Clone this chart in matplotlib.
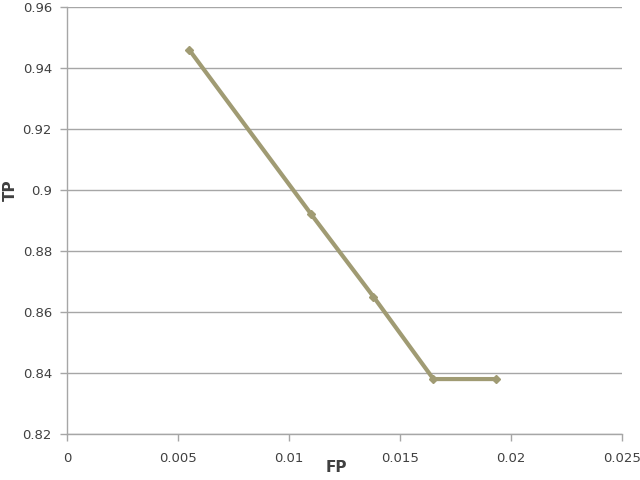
import numpy as np
import matplotlib.pyplot as plt

fp = [0.0055, 0.0110, 0.0138, 0.0165, 0.0193]
tp = [0.946, 0.892, 0.865, 0.838, 0.838]

xticks = [0, 0.005, 0.01, 0.015, 0.02, 0.025]
xticklabels = ['0', '0.005', '0.01', '0.015', '0.02', '0.025']
yticks = [0.82, 0.84, 0.86, 0.88, 0.90, 0.92, 0.94, 0.96]
yticklabels = ['0.82', '0.84', '0.86', '0.88', '0.9', '0.92', '0.94', '0.96']

grey = '#a6a6a6'
txt = '#404040'

fig = plt.figure(figsize=(6.4, 4.8), dpi=100)
ax = fig.add_axes([0.105, 0.096, 0.867, 0.889])

ax.plot(fp, tp, color='#a09b73', lw=3, marker='D', ms=4, solid_capstyle='round')

ax.set_xlim(0, 0.025)
ax.set_ylim(0.82, 0.96)
ax.set_xticks(xticks)
ax.set_xticklabels(xticklabels)
ax.set_yticks(yticks)
ax.set_yticklabels(yticklabels)

ax.grid(axis='y', color=grey, lw=1)
ax.set_axisbelow(True)
for s in ['top', 'right']:
    ax.spines[s].set_visible(False)
for s in ['left', 'bottom']:
    ax.spines[s].set_color(grey)
    ax.spines[s].set_linewidth(1)
ax.tick_params(axis='both', color=grey, length=5, width=1, labelsize=9.5, labelcolor=txt)
ax.tick_params(axis='x', pad=8)
ax.tick_params(axis='y', pad=6)

ax.set_xlabel('FP', fontsize=11, fontweight='bold', color=txt)
ax.set_ylabel('TP', fontsize=11, fontweight='bold', color=txt)
ax.xaxis.set_label_coords(0.485, -0.061)
ax.yaxis.set_label_coords(-0.088, 0.571)

fig.savefig('out.png', dpi=100)
